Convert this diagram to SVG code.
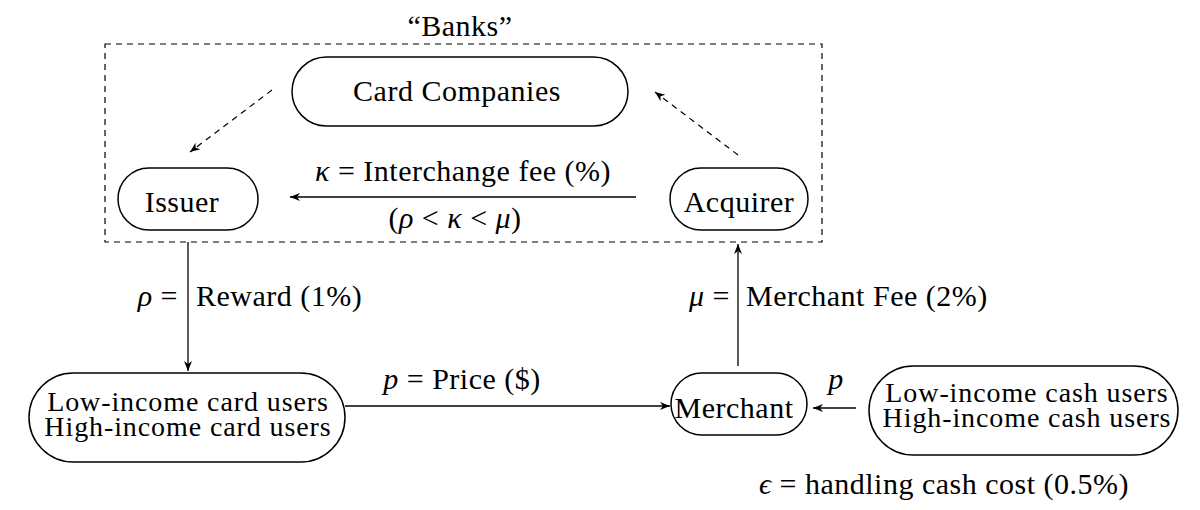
<svg xmlns="http://www.w3.org/2000/svg" width="1200" height="510" viewBox="0 0 1200 510">
<defs>
<marker id="ah" viewBox="0 0 10 10" refX="10" refY="5" markerWidth="10" markerHeight="10" markerUnits="userSpaceOnUse" orient="auto">
<path d="M0,1 L10,5 L0,9 L3,5 Z" fill="#000"/>
</marker>
</defs>
<style>
text{font-family:"Liberation Serif","Times New Roman",serif;font-size:30px;letter-spacing:0.5px;fill:#000}
.s{font-size:28px;letter-spacing:0.9px}
.m{text-anchor:middle}
.e{text-anchor:end}
.i{font-style:italic}
.n{fill:#fff;stroke:#000;stroke-width:1.5}
.c{fill:none;stroke:#000;stroke-width:1.3}
.d{fill:none;stroke:#000;stroke-width:1.2;stroke-dasharray:6,5}
</style>
<rect x="105" y="44" width="717" height="198" class="d"/>
<text x="460" y="36" class="m">“Banks”</text>
<g id="connectors">
<line x1="272" y1="90" x2="190" y2="152" class="d" marker-end="url(#ah)"/>
<line x1="738" y1="155" x2="655" y2="92" class="d" marker-end="url(#ah)"/>
<line x1="636" y1="197" x2="290" y2="197" class="c" marker-end="url(#ah)"/>
<line x1="188" y1="242" x2="188" y2="371" class="c" marker-end="url(#ah)"/>
<line x1="738" y1="366" x2="738" y2="244" class="c" marker-end="url(#ah)"/>
<line x1="345" y1="406" x2="670" y2="406" class="c" marker-end="url(#ah)"/>
<line x1="856" y1="408" x2="813" y2="408" class="c" marker-end="url(#ah)"/>
<text x="463" y="181" class="m"><tspan class="i">κ</tspan> = Interchange fee (%)</text>
<text x="455" y="228" class="m">(<tspan class="i">ρ</tspan> &lt; <tspan class="i">κ</tspan> &lt; <tspan class="i">μ</tspan>)</text>
<text x="178" y="306" class="e"><tspan class="i">ρ</tspan> =</text>
<text x="196" y="306">Reward (1%)</text>
<text x="730" y="306" class="e"><tspan class="i">μ</tspan> =</text>
<text x="746" y="306">Merchant Fee (2%)</text>
<text x="462" y="389" class="m"><tspan class="i">p</tspan> = Price ($)</text>
<text x="836" y="389" class="m i">p</text>
<text x="944" y="494" class="m"><tspan class="i">ϵ</tspan> = handling cash cost (0.5%)</text>
</g>
<g id="card-companies">
<rect x="292" y="57" width="336" height="69" rx="34.5" class="n"/>
<text x="457" y="101" class="m">Card Companies</text>
</g>
<g id="issuer">
<rect x="118" y="168" width="140" height="62" rx="31" class="n"/>
<text x="182" y="212" class="m">Issuer</text>
</g>
<g id="acquirer">
<rect x="670" y="168" width="138" height="62" rx="31" class="n"/>
<text x="739" y="212" class="m">Acquirer</text>
</g>
<g id="card-users">
<rect x="29" y="373" width="316" height="89" rx="44.5" class="n"/>
<text x="188" y="411" class="m s">Low-income card users</text>
<text x="188" y="436" class="m s">High-income card users</text>
</g>
<g id="merchant">
<rect x="671" y="373" width="136" height="62" rx="31" class="n"/>
<text x="734" y="418" class="m">Merchant</text>
</g>
<g id="cash-users">
<rect x="869" y="366" width="309" height="89" rx="44.5" class="n"/>
<text x="1027" y="402" class="m s">Low-income cash users</text>
<text x="1027" y="427" class="m s">High-income cash users</text>
</g>
</svg>
